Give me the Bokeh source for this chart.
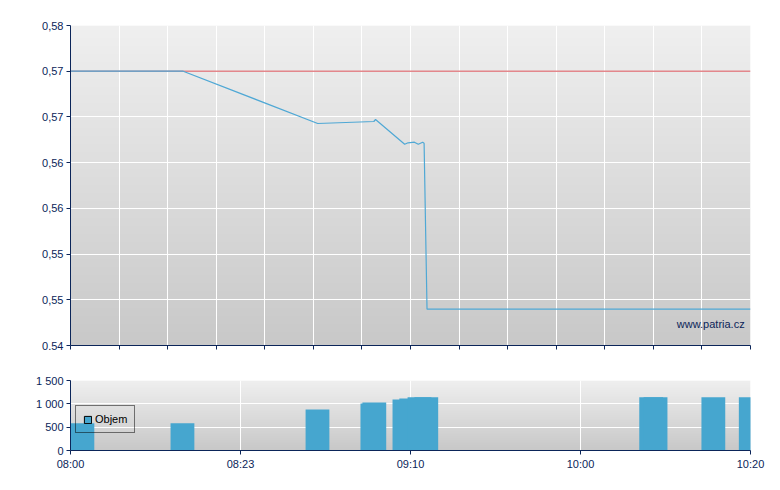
import numpy as np
from bokeh.plotting import figure
from bokeh.models import (FixedTicker, CustomJSTickFormatter, Label, Legend,
                          LegendItem, Range1d)
from bokeh.layouts import column
from bokeh.embed import file_html
from bokeh.resources import INLINE

# ---- data (x in axis position units: 0 = 08:00 ... 14 = 10:20) ----
X_TICKS = [0, 3.5, 7, 10.5, 14]
X_TICK_LABELS = ["08:00", "08:23", "09:10", "10:00", "10:20"]

PRICE_X = [0, 2.32, 5.09, 6.245, 6.28, 6.88, 6.95, 7.08, 7.16, 7.25, 7.28, 7.34, 14]
PRICE_Y = [0.574286, 0.574286, 0.56775, 0.568, 0.56825, 0.56516, 0.56534,
           0.56541, 0.56516, 0.56541, 0.56529, 0.54454, 0.54454]
REF_PRICE = 0.574286

PRICE_TICKS = [0.54, 0.545714, 0.551429, 0.557143, 0.562857, 0.568571, 0.574286, 0.58]
PRICE_TICK_LABELS = ["0.54", "0,55", "0,55", "0,56", "0,56", "0,57", "0,57", "0,58"]

VOL_X = [0.0, 2.06, 4.84, 5.97, 6.01, 6.63, 6.77, 6.94, 7.08, 11.71, 11.8, 12.99, 13.76]
VOL = [585, 585, 879, 1007, 1029, 1093, 1114, 1142, 1142, 1142, 1142, 1142, 1142]
VOL_TICKS = [0, 500, 1000, 1500]
VOL_TICK_LABELS = ["0", "500", "1 000", "1 500"]

# ---- styles ----
NAVY = "#0b2559"
LINE_BLUE = "#4fa8d5"
BAR_BLUE = "#46a6cf"
RED = "#e07a80"
FONT = "Liberation Sans"
BAR_W = 0.49

fmt_code = """
for (let i = 0; i < tvals.length; i++) {
  if (Math.abs(tick - tvals[i]) < 1e-6) return tlabels[i];
}
return '';
"""


def gradient(top, bottom, n):
    img = np.empty((n, 1), dtype=np.uint32)
    view = img.view(dtype=np.uint8).reshape((n, 1, 4))
    for i in range(n):
        t = i / (n - 1)
        c = int(round(bottom + (top - bottom) * t))
        view[i, 0, :] = [c, c, c, 255]
    return img


def style_axes(p):
    for ax in (p.xaxis[0], p.yaxis[0]):
        ax.axis_line_color = NAVY
        ax.axis_line_width = 1
        ax.major_tick_line_color = NAVY
        ax.major_tick_out = 4
        ax.major_tick_in = 0
        ax.minor_tick_line_color = None
        ax.major_label_text_font = FONT
        ax.major_label_text_font_size = "11px"
        ax.major_label_text_color = NAVY
        ax.major_label_standoff = 3
    p.grid.grid_line_color = "white"
    p.grid.grid_line_width = 1
    p.outline_line_color = None


# ---- price chart ----
p = figure(width=772, height=365, x_range=Range1d(0, 14), y_range=Range1d(0.54, 0.58),
           output_backend="svg", toolbar_location=None,
           min_border_left=70, min_border_right=22, min_border_top=25, min_border_bottom=20)
p.image_rgba(image=[gradient(239, 200, 320)], x=0, y=0.54, dw=14, dh=0.04, level="image")
style_axes(p)
p.xaxis.ticker = FixedTicker(ticks=list(range(15)))
p.xaxis.formatter = CustomJSTickFormatter(code="return '';")
p.yaxis.ticker = FixedTicker(ticks=PRICE_TICKS)
p.yaxis.formatter = CustomJSTickFormatter(args=dict(tvals=PRICE_TICKS, tlabels=PRICE_TICK_LABELS),
                                          code=fmt_code)

p.line(x=[0, 14], y=[REF_PRICE, REF_PRICE], line_color=RED, line_width=1.6, line_alpha=0.9)
p.line(x=PRICE_X, y=PRICE_Y, line_color=LINE_BLUE, line_width=1.2)
p.add_layout(Label(x=13.88, y=0.54275, text="www.patria.cz", text_align="right",
                   text_baseline="middle", text_font=FONT, text_font_size="11px",
                   text_color=NAVY))

# ---- volume chart ----
q = figure(width=772, height=110, x_range=Range1d(0, 14), y_range=Range1d(0, 1500),
           output_backend="svg", toolbar_location=None,
           min_border_left=70, min_border_right=22, min_border_top=15, min_border_bottom=25)
q.image_rgba(image=[gradient(239, 200, 70)], x=0, y=0, dw=14, dh=1500, level="image")
style_axes(q)
q.xaxis.ticker = FixedTicker(ticks=X_TICKS)
q.xaxis.formatter = CustomJSTickFormatter(args=dict(tvals=X_TICKS, tlabels=X_TICK_LABELS),
                                          code=fmt_code)
q.yaxis.ticker = FixedTicker(ticks=VOL_TICKS)
q.yaxis.formatter = CustomJSTickFormatter(args=dict(tvals=VOL_TICKS, tlabels=VOL_TICK_LABELS),
                                          code=fmt_code)

lefts = list(VOL_X)
rights = [v + BAR_W for v in VOL_X]
q.quad(left=lefts, right=rights, bottom=0, top=VOL, fill_color=BAR_BLUE, line_color=None)

# legend-only swatch (NaN data: draws nothing in the plot)
dummy = q.quad(left=[np.nan], right=[np.nan], bottom=[np.nan], top=[np.nan],
               fill_color=BAR_BLUE, line_color="black")
legend = Legend(items=[LegendItem(label="Objem", renderers=[dummy], index=0)], location=(5, 17),
                border_line_color="black", border_line_width=1, background_fill_alpha=0,
                padding=7, margin=0, glyph_width=9, glyph_height=9, label_standoff=3,
                label_text_font=FONT, label_text_font_size="11px", label_text_color="black",
                label_height=12)
q.add_layout(legend)

layout = column(p, q)
open("out.html", "w").write(file_html(layout, INLINE))
